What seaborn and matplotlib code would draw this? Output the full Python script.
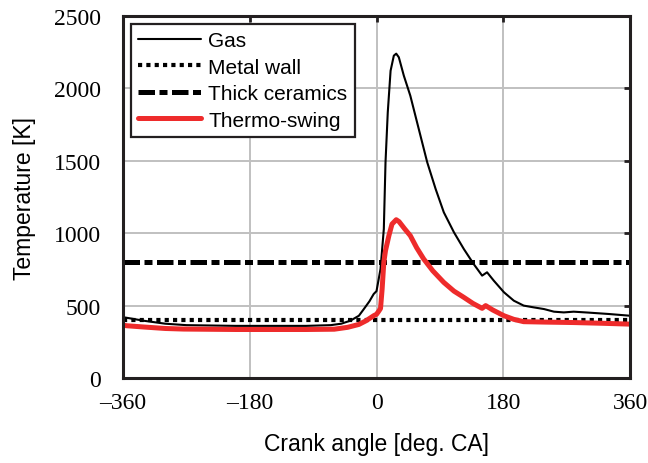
import matplotlib
matplotlib.use("Agg")
import matplotlib.pyplot as plt
import matplotlib.ticker as mticker
import seaborn as sns
import pandas as pd

# values
gas_angle = [-360, -350, -330, -300, -270, -200, -150, -100, -65, -50, -37, -25, -18, -10, -4, 0,
             3, 5.7, 10.4, 12.8, 16, 20, 24.6, 28, 31.7, 38.8, 48, 60, 72, 84, 95.6, 110, 124, 138,
             150, 157, 166.6, 181, 195, 209, 223, 238, 252, 266, 280, 300, 330, 360]
gas_temp = [420, 412, 395, 375, 365, 360, 360, 360, 365, 375, 396, 430, 476, 530, 580, 600,
            680, 753, 1029, 1490, 1835, 2122, 2226, 2240, 2215, 2088, 1950, 1720, 1490, 1305, 1144, 1006, 891, 787,
            707, 730, 672, 592, 534, 500, 488, 476, 458, 453, 458, 452, 442, 430]

swing_angle = [-360, -355, -330, -300, -274, -200, -150, -100, -60, -41, -25, -15, -4, 0,
               3, 5.7, 8, 10.4, 12.8, 17.6, 22, 28, 32, 40, 48, 57, 67, 80, 95.6, 110, 124, 137,
               150, 155, 165, 181, 195, 209, 240, 280, 320, 360]
swing_temp = [365, 361, 352, 342, 338, 335, 335, 335, 337, 350, 370, 395, 430, 440,
              460, 480, 615, 800, 880, 983, 1063, 1093, 1080, 1030, 983, 900, 822, 740, 660, 600, 557, 515,
              481, 500, 470, 430, 405, 389, 386, 383, 378, 372]

wall_angle = [-360, 360]
metal_temp = [400, 400]
ceramic_temp = [800, 800]

x_ticks = [-360, -180, 0, 180, 360]
y_ticks = [0, 500, 1000, 1500, 2000, 2500]

sns.set_style("whitegrid")
plt.rcParams["font.family"] = ["Liberation Sans", "DejaVu Sans"]
plt.rcParams["axes.unicode_minus"] = False
plt.rcParams["text.color"] = "black"
plt.rcParams["axes.labelcolor"] = "black"
plt.rcParams["xtick.labelcolor"] = "black"
plt.rcParams["ytick.labelcolor"] = "black"

fig = plt.figure(figsize=(6.48, 4.64), dpi=100)
ax = fig.add_axes([123 / 648, 85 / 464, 507 / 648, 362 / 464])

sns.lineplot(x=gas_angle, y=gas_temp, color="black", lw=1.5, label="Gas", ax=ax, sort=False)
sns.lineplot(x=wall_angle, y=metal_temp, color="black", lw=3.0, label="Metal wall", ax=ax,
             linestyle=(0, (1, 1)))
sns.lineplot(x=wall_angle, y=ceramic_temp, color="black", lw=3.6, label="Thick ceramics", ax=ax,
             linestyle=(0, (3.3, 0.9, 1.6, 0.9)))
sns.lineplot(x=swing_angle, y=swing_temp, color="#ee2b2b", lw=3.6, label="Thermo-swing", ax=ax, sort=False)

for ln in ax.get_lines():
    ln.set_dash_capstyle("butt")

ax.set_xlim(-360, 360)
ax.set_ylim(0, 2500)
ax.set_xticks(x_ticks)
ax.set_yticks(y_ticks)
ax.xaxis.set_major_formatter(mticker.FuncFormatter(lambda v, p: f"{int(v)}".replace("-", "\u2013")))

ax.grid(True, color="#c0c0c0", lw=1.4)
ax.set_axisbelow(True)
for s in ax.spines.values():
    s.set_color("#231f20")
    s.set_linewidth(2.2)

ax.tick_params(axis="both", direction="in", length=4.5, width=2, color="#231f20",
               labelcolor="black", top=True, right=True, labelsize=17)
ax.tick_params(axis="y", pad=16)
ax.tick_params(axis="x", pad=10)
for lab in ax.get_xticklabels() + ax.get_yticklabels():
    lab.set_family(["Liberation Serif", "DejaVu Serif"])

ax.set_xlabel("Crank angle [deg. CA]", fontsize=16.5, labelpad=14)
ax.set_ylabel("Temperature [K]", fontsize=16.5, labelpad=13)

leg = ax.legend(loc="upper left", bbox_to_anchor=(0.016, 0.978), borderaxespad=0,
                fontsize=15, handlelength=3.0, handletextpad=0.35, labelspacing=0.36,
                borderpad=0.35, fancybox=False, framealpha=1)
leg.get_frame().set_edgecolor("#231f20")
leg.get_frame().set_linewidth(1.6)
for t in leg.get_texts():
    t.set_color("black")

plt.savefig("out.png", dpi=100)
plt.close()
